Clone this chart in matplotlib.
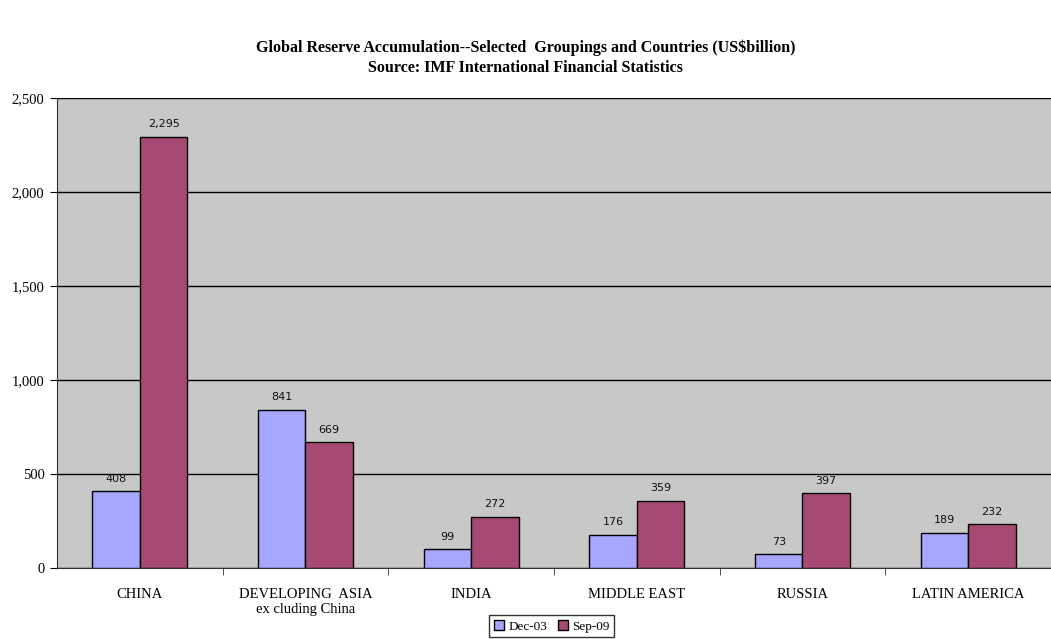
import matplotlib
matplotlib.use("Agg")
import matplotlib.pyplot as plt
import numpy as np
from matplotlib.ticker import FuncFormatter, FixedLocator

categories = ["CHINA", "DEVELOPING  ASIA\nex cluding China", "INDIA", "MIDDLE EAST", "RUSSIA", "LATIN AMERICA"]
dec03 = [408, 841, 99, 176, 73, 189]
sep09 = [2295, 669, 272, 359, 397, 232]
series_names = ["Dec-03", "Sep-09"]
yticks = [0, 500, 1000, 1500, 2000, 2500]

c_blue = "#A6A6FF"
c_red = "#A64A74"

fig = plt.figure(figsize=(10.51, 6.39), dpi=100)
ax = fig.add_axes([0.0542, 0.111, 0.9458, 0.7356])
ax.set_facecolor("#C8C8C8")

x = np.arange(len(categories))
w = 0.287
b1 = ax.bar(x - w/2, dec03, w, color=c_blue, edgecolor="black", linewidth=1, label=series_names[0], zorder=3)
b2 = ax.bar(x + w/2, sep09, w, color=c_red, edgecolor="black", linewidth=1, label=series_names[1], zorder=3)

for bars, vals in ((b1, dec03), (b2, sep09)):
    for r, v in zip(bars, vals):
        ax.text(r.get_x() + r.get_width()/2, v + 40, f"{v:,}", ha="center", va="bottom",
                fontsize=8, family="DejaVu Sans", color="#111111")

ax.set_xlim(-0.5, len(categories) - 0.5)
ax.set_ylim(0, 2500)
ax.set_yticks(yticks)
ax.yaxis.set_major_formatter(FuncFormatter(lambda v, p: f"{int(v):,}"))
ax.grid(axis="y", color="black", linewidth=1, zorder=1)
ax.set_axisbelow(True)

ax.set_xticks(x)
ax.set_xticklabels(categories, family="Liberation Serif", fontsize=10.5)
ax.tick_params(axis="x", length=0, pad=14)
ax.xaxis.set_minor_locator(FixedLocator(np.arange(0.5, len(categories) - 0.5, 1)))
ax.tick_params(axis="x", which="minor", length=5, direction="out", color="#333333")
ax.tick_params(axis="y", length=5, direction="out", labelsize=10.5, pad=4)
for lab in ax.get_yticklabels():
    lab.set_family("Liberation Serif")

for s in ["top", "right"]:
    ax.spines[s].set_visible(False)
ax.spines["left"].set_color("#333333")
ax.spines["bottom"].set_color("#333333")

fig.text(0.5, 0.909, "Global Reserve Accumulation--Selected  Groupings and Countries (US$billion)\nSource: IMF International Financial Statistics",
         ha="center", va="center", fontsize=11.5, fontweight="bold", family="Liberation Serif", linespacing=1.35)

leg = fig.legend(loc="center", bbox_to_anchor=(0.525, 0.02), ncol=2, frameon=True, fancybox=False,
                 edgecolor="black", prop={"family": "Liberation Serif", "size": 9.5},
                 handlelength=0.8, handleheight=0.8, handletextpad=0.3, columnspacing=0.8, borderpad=0.35)
leg.get_frame().set_linewidth(1)

fig.savefig("out.png", dpi=100)
